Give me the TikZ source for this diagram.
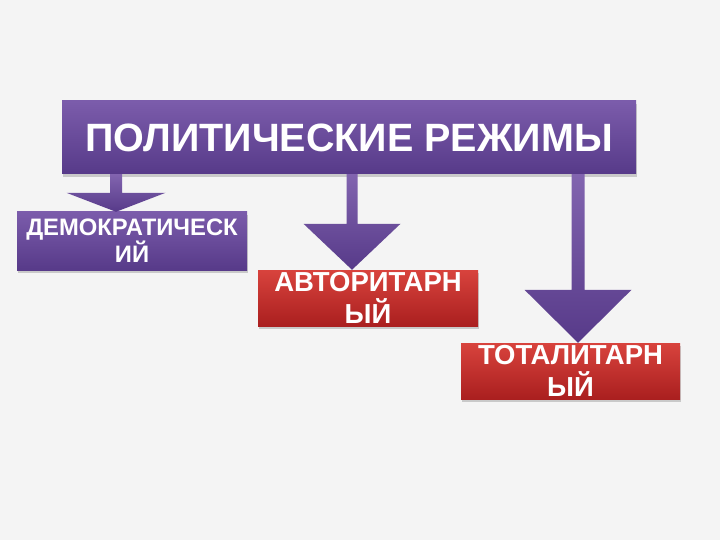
\documentclass[tikz,border=0pt]{standalone}
\usepackage{fontspec}
\setmainfont{Liberation Sans}
\usetikzlibrary{calc,shadows}
\definecolor{bgcol}{HTML}{F4F4F4}
\definecolor{purptop}{HTML}{7B5CAB}
\definecolor{purpbot}{HTML}{573A89}
\definecolor{redtop}{HTML}{D8433D}
\definecolor{redbot}{HTML}{AA1F1F}
% stem from the title down to the box, head ends on its top
\newcommand{\blockarrow}[5]{%
  \path[arrowfill] ($(title.south -| #1)+(-#4,0)$) -- ($(#2.north -| #1)+(-#4,-#3)$)
    -- ($(#2.north -| #1)+(-#5,-#3)$) -- (#2.north -| #1) -- ($(#2.north -| #1)+(#5,-#3)$)
    -- ($(#2.north -| #1)+(#4,-#3)$) -- ($(title.south -| #1)+(#4,0)$) -- cycle;}
\begin{document}
\begin{tikzpicture}[x=1pt,y=-1pt,
    boxshadow/.style={drop shadow={shadow xshift=1pt,shadow yshift=-3pt,opacity=.25,fill=black!70}},
    purplebox/.style={top color=purptop,bottom color=purpbot,boxshadow,inner sep=0pt,
      text=white,align=center,font=\bfseries},
    redbox/.style={top color=redtop,bottom color=redbot,boxshadow,inner sep=0pt,
      text=white,align=center,font=\bfseries\fontsize{27.5}{32}\selectfont},
    arrowfill/.style={top color=purptop!95,bottom color=purpbot}]
  \fill[bgcol] (0,0) rectangle (720,540);

  \node[purplebox,minimum width=574pt,minimum height=73pt,font=\bfseries\fontsize{39.5}{46}\selectfont]
    (title) at (349,137.5) {ПОЛИТИЧЕСКИЕ РЕЖИМЫ};
  \node[purplebox,minimum width=230pt,minimum height=58pt,font=\bfseries\fontsize{23.8}{27}\selectfont]
    (demo) at (132,241) {ДЕМОКРАТИЧЕСК\\ИЙ};
  \node[redbox,minimum width=220pt,minimum height=56pt] (auth) at (368,298) {АВТОРИТАРН\\ЫЙ};
  \node[redbox,minimum width=219pt,minimum height=56pt] (tot) at (570.5,371) {ТОТАЛИТАРН\\ЫЙ};

  \coordinate (ad) at (116,0);
  \coordinate (aa) at (352,0);
  \coordinate (at) at (578,0);
  \blockarrow{ad}{demo}{19}{6}{49.5}
  \blockarrow{aa}{auth}{46}{5.5}{48.5}
  \blockarrow{at}{tot}{53}{6.5}{53.5}
\end{tikzpicture}
\end{document}
